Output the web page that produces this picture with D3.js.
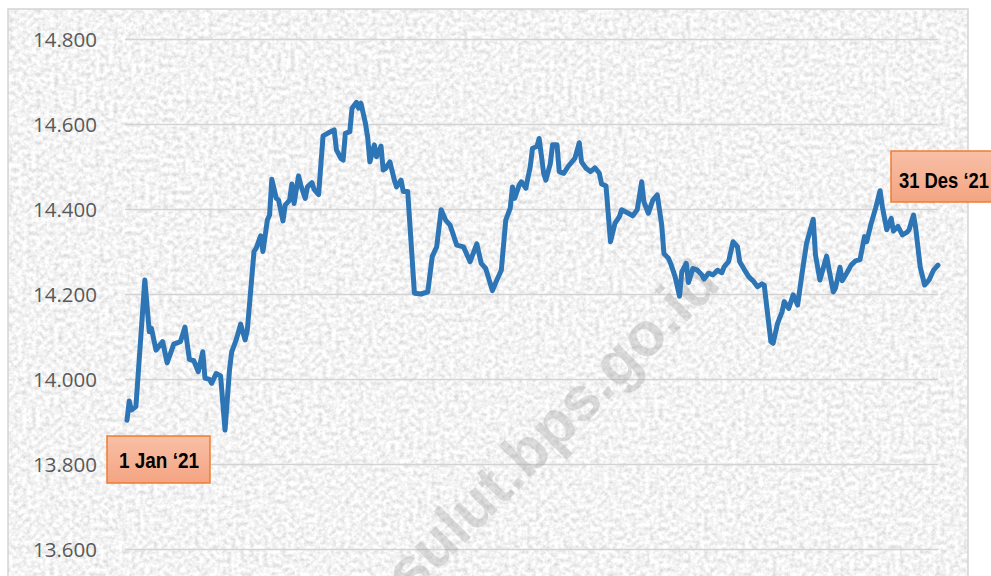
<!DOCTYPE html>
<html>
<head>
<meta charset="utf-8">
<script src="https://cdn.jsdelivr.net/npm/d3@7"></script>
<style>
  html, body { margin: 0; padding: 0; background: #ffffff; }
  svg { display: block; }
</style>
</head>
<body>
<svg id="chart" width="991" height="576"></svg>
<script>
// Day offsets from 1 Jan 2021
const dayOffsets = [0,1,2,4,8,10,11,13,16,18,21,24,26,28,30,32,34,35,37,38,40,42,44,46,47,49,51,53,54,57,58,59,60,61,63,64,65,67,68,70,71,73,74,75,77,78,80,81,83,84,86,88,90,93,94,96,97,98,100,101,103,104,105,107,108,109,111,112,114,115,116,118,120,121,123,124,126,129,132,135,137,139,141,143,145,148,151,154,157,159,161,164,166,168,170,172,173,174,176,177,179,181,182,184,185,187,188,190,191,193,194,196,198,201,203,204,206,208,210,212,213,215,217,219,221,222,225,227,229,231,232,234,236,238,240,241,243,244,246,248,249,251,252,254,256,258,259,261,263,265,267,268,270,272,274,275,277,279,281,283,285,286,289,290,292,294,295,297,299,301,303,305,308,309,311,314,315,317,318,320,321,323,325,327,329,331,332,334,336,338,339,341,343,344,346,348,350,351,353,354,356,358,360,362,364];
// Rupiah per USD
const rates = [13903,13948,13927,13935,14233,14111,14119,14068,14088,14038,14082,14088,14122,14046,14043,14017,14064,14002,13999,13990,14013,14007,13880,14021,14064,14092,14129,14092,14115,14300,14308,14323,14337,14300,14374,14386,14470,14425,14421,14372,14409,14421,14459,14413,14478,14456,14425,14452,14462,14446,14434,14572,14578,14586,14539,14519,14515,14578,14582,14637,14651,14637,14649,14602,14570,14511,14551,14523,14548,14492,14495,14511,14468,14452,14468,14441,14441,14202,14200,14205,14288,14311,14398,14374,14362,14315,14311,14276,14318,14272,14260,14208,14233,14256,14374,14402,14452,14425,14456,14464,14449,14500,14543,14547,14566,14484,14468,14507,14551,14551,14488,14484,14500,14519,14556,14511,14496,14488,14497,14484,14459,14454,14323,14366,14382,14398,14390,14384,14398,14464,14417,14390,14421,14433,14362,14295,14284,14272,14241,14195,14252,14272,14227,14260,14256,14245,14235,14249,14245,14256,14250,14264,14276,14323,14311,14276,14258,14241,14231,14217,14224,14221,14088,14084,14131,14158,14182,14166,14198,14174,14249,14319,14376,14292,14233,14289,14260,14205,14214,14263,14231,14249,14268,14278,14281,14335,14323,14366,14402,14443,14406,14351,14378,14348,14359,14339,14345,14351,14386,14355,14264,14221,14233,14256,14268];
const yTicks = [13600,13800,14000,14200,14400,14600,14800];
const startLabel = "1 Jan \u201821";
const endLabel = "31 Des \u201821";
const watermark = "sulut.bps.go.id";

const svg = d3.select("#chart");
const defs = svg.append("defs");

// granite-like texture
const f = defs.append("filter").attr("id","granite").attr("x",0).attr("y",0).attr("width","100%").attr("height","100%");
f.append("feTurbulence").attr("type","fractalNoise").attr("baseFrequency","0.22").attr("numOctaves",4).attr("seed",11).attr("result","n");
f.append("feColorMatrix").attr("in","n").attr("type","matrix")
  .attr("values","0.58 0 0 0 0.61  0.58 0 0 0 0.61  0.58 0 0 0 0.61  0 0 0 0 1");

const grad = defs.append("linearGradient").attr("id","boxGrad").attr("x1",0).attr("y1",0).attr("x2",0).attr("y2",1);
grad.append("stop").attr("offset","0%").attr("stop-color","#f8c0a7");
grad.append("stop").attr("offset","100%").attr("stop-color","#f4a482");

// background panel
svg.append("rect").attr("x",8).attr("y",9).attr("width",960).attr("height",600)
  .attr("fill","#e9e9e9").attr("filter","url(#granite)");
svg.append("rect").attr("x",8).attr("y",9).attr("width",960).attr("height",600)
  .attr("fill","none").attr("stroke","#d4d4d4").attr("stroke-width",1.5);

const x = d3.scaleTime()
  .domain([new Date(2021,0,1), new Date(2021,11,31)])
  .range([127, 938]);
const y = d3.scaleLinear().domain([13600,14800]).range([549,39]);

const fmt = v => d3.format(",")(v).replace(/,/g,".") ;

// gridlines
const grid = svg.append("g").attr("transform","translate(125,0)")
  .call(d3.axisLeft(y).tickValues(yTicks).tickSize(-(938-125)).tickFormat(""));
grid.select(".domain").remove();
grid.selectAll("line").attr("stroke","#d3d3d3").attr("stroke-width",1.6);

// y labels
const yAxis = svg.append("g").attr("transform","translate(97,0)")
  .call(d3.axisLeft(y).tickValues(yTicks).tickSize(0).tickPadding(0).tickFormat(fmt));
yAxis.select(".domain").remove();
yAxis.selectAll("text").attr("fill","#595959").attr("font-family","'Open Sans', 'Liberation Sans', sans-serif")
  .attr("font-size","20.5px").attr("dy","0.35em");

// watermark
svg.append("text").attr("transform","translate(555,430) rotate(-45)")
  .attr("text-anchor","middle").attr("dominant-baseline","middle")
  .attr("font-family","'Liberation Sans', Arial, sans-serif").attr("font-weight","bold")
  .attr("font-size","62px").attr("fill","#9a9a9a").attr("opacity",0.32)
  .text(watermark);

// line
const data = dayOffsets.map((d,i) => ({date: d3.timeDay.offset(new Date(2021,0,1), d), v: rates[i]}));
svg.append("path").datum(data)
  .attr("fill","none").attr("stroke","#2e75b6").attr("stroke-width",5)
  .attr("stroke-linejoin","round").attr("stroke-linecap","round")
  .attr("d", d3.line().x(d => x(d.date)).y(d => y(d.v)));

// callout boxes
function callout(bx, by, bw, bh, tx, ty, tw, label) {
  svg.append("rect").attr("x",bx).attr("y",by).attr("width",bw).attr("height",bh)
    .attr("fill","url(#boxGrad)").attr("stroke","#ed7d31").attr("stroke-width",1.5);
  svg.append("text").attr("x",tx).attr("y",ty)
    .attr("font-family","'Liberation Sans Narrow', 'Arial Narrow', 'Liberation Sans', sans-serif")
    .attr("font-weight","bold").attr("font-size","22.5px").attr("fill","#000")
    .attr("textLength", tw).attr("lengthAdjust","spacingAndGlyphs")
    .text(label);
}
callout(107, 436, 103, 47, 119, 467.5, 80, startLabel);
callout(891, 151, 110, 51, 899, 187.5, 90, endLabel);
</script>
</body>
</html>
